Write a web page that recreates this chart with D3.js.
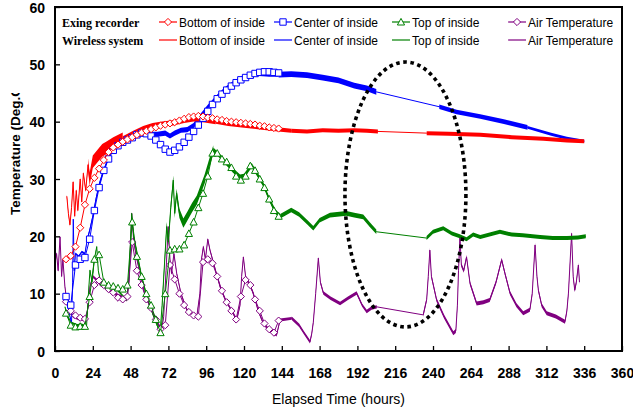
<!DOCTYPE html>
<html>
<head>
<meta charset="utf-8">
<script src="https://cdn.jsdelivr.net/npm/d3@7"></script>
<style>
  body { margin: 0; background: #fff; }
  svg { font-family: "Liberation Sans", Arial, sans-serif; }
</style>
</head>
<body>
<svg id="chart" width="633" height="412"></svg>
<script>
// axis ticks
const xTicks = [0, 24, 48, 72, 96, 120, 144, 168, 192, 216, 240, 264, 288, 312, 336, 360];
const yTicks = [0, 10, 20, 30, 40, 50, 60];

// Exing recorder (markers), hours
const recTime = [7,10,13,16,19,22,25,28,31,34,37,40,43,46,49,52,55,58,61,64,67,70,73,76,79,82,85,88,91,94,97,100,103,106,109,112,115,118,121,124,127,130,133,136,139,142];
const recBottom = [16.0,16.6,18.2,21.5,25.5,28.3,30.2,31.8,33.3,34.7, 35.5,36.0,36.5,36.9,37.3,37.7,38.1,38.4,38.7,39.0, 39.3,39.5,39.7,39.9,40.2,40.5,40.8,40.9,41.0,40.9, 40.7,40.6,40.4,40.3,40.1,40.0,39.9,39.8,39.7,39.6, 39.5,39.3,39.2,39.0,38.9,38.8];
const recCenter = [9.5,8.0,15.0,16.0,16.3,19.5,24.5,28.5,31.5,33.5, 35.0,35.8,36.4,36.8,37.2,37.7,38.0,37.9,37.5,36.8, 36.0,35.2,34.7,35.0,35.6,36.4,37.3,38.3,39.4,40.6, 41.8,43.0,44.0,44.8,45.5,46.2,46.8,47.3,47.7,48.1, 48.4,48.6,48.7,48.7,48.6,48.5];
const recTop = [6.6,4.5,4.2,4.3,4.3,9.5,16.0,16.8,12.0,11.5, 11.3,11.0,10.8,11.5,22.5,16.5,13.0,10.0,8.0,5.5, 3.2,10.0,17.6,17.8,17.8,18.5,20.5,22.5,25.0,27.5, 30.5,34.5,34.5,33.5,33.0,32.0,30.5,29.8,30.5,32.3, 31.5,30.0,28.5,26.5,24.5,23.5];
const recAir = [8.6,7.0,6.2,5.8,5.6,8.5,11.5,12.3,11.5,10.8, 10.2,9.3,9.0,9.5,19.0,14.0,11.5,9.0,7.5,5.5, 3.8,4.5,15.0,12.5,10.0,8.0,6.8,6.2,6.0,15.5, 16.0,15.3,13.0,10.5,8.5,7.0,5.5,9.5,12.4,11.5, 9.0,7.0,4.8,3.8,3.2,5.3];

// Wireless system: [hour, deg]
const wlBottom = [[7.5,27],[8.5,24],[9.5,22],[10.5,25],[11.5,29.5],[12.5,23.5],[13.5,28],[14.5,24.5],[16,30],[17,26],[18,31],[19.5,28],[21,32.5],[22,30],[24,33],[27,34],[30,35],[33,35.5],[37,36.2],[43,37],[50,38],[56,38.8],[62,39.3],[68,39.6],[75,39.8],[82,40.2],[88,40.5],[95,40.3],[102,40.0],[110,39.6],[120,39.3],[130,39.0],[140,38.7],[150,38.4],[160,38.3],[170,38.5],[180,38.4],[190,38.5],[198,38.4],[205,38.3],[236,38.0],[250,37.9],[270,37.7],[290,37.3],[310,37.0],[325,36.7],[336,36.6]];
const wlCenter = [[6.5,10],[8,8],[9.5,6],[10.5,5],[11.2,12],[11.6,23],[12.2,14],[13,17],[15,16.5],[17,17.3],[19,17],[20.5,19.5],[22,21],[24,23.5],[26,26.5],[28,29],[30,30.8],[33,33],[36,35],[40,35.8],[44,36.6],[50,37.4],[55,38.0],[60,37.8],[65,37.8],[70,38.0],[73,37.5],[76,38.0],[80,38.5],[84,38.6],[88,39.3],[92,40.9],[97,42.6],[103,44.4],[108,45.7],[113,46.7],[118,47.5],[124,48.1],[130,48.3],[136,48.2],[142,48.2],[150,48.3],[160,48.1],[170,47.7],[180,47.2],[190,46.3],[198,45.8],[204,45.2],[244,42.6],[255,41.7],[270,40.9],[285,40.0],[300,39.0],[315,37.8],[325,37.1],[336,36.6]];
const wlTop = [[6.3,7.7],[8,6],[10.6,4.9],[14,4.5],[17,4.6],[20,4.2],[21,9],[22.2,14.1],[23.5,12],[25,16],[26.5,18.2],[27.5,14],[28.6,12.5],[32.8,11.2],[39,10.8],[45.5,8.9],[47,13],[48.7,24],[50,20],[51.8,17.6],[55,13],[58.2,9.5],[62,6.5],[66.7,3.1],[68,8],[70.9,21.7],[72,19],[73.5,25],[75.1,29.8],[76,24],[77.2,27.5],[79,24],[81.5,22.3],[84,23.5],[87,25],[90,26.3],[95,30],[100.5,35.1],[104,34.2],[109,32.7],[113,31.5],[117.5,30.4],[120,30.5],[124.9,32.4],[128,31],[132,29.2],[136,26.5],[140,24.3],[143,23.5],[150,24.6],[155,23.8],[160,22.5],[164,21.4],[168,22.8],[174.6,23.7],[185,24],[190,23.7],[195.7,23.4],[200,22],[204,20.8],[235.9,19.7],[240,20.8],[246.5,21.4],[252,20.5],[257,20.0],[261.3,19.5],[265.5,20.3],[270,19.9],[282.5,20.8],[290,20.3],[297,20.2],[308,19.9],[316,19.7],[325,19.7],[332,19.8],[337,20.0]];
const wlAir = [[0,15.3],[1,17],[2,14],[3.2,19.9],[4.2,13],[5,16],[6.3,11.2],[7.4,8.9],[9,7],[11.6,6],[15,5.6],[20,5.4],[21,8],[22.2,11.2],[24,13],[26.5,12.4],[29,11.5],[32.8,11],[38,10],[42,9.5],[45.5,8.9],[47,12],[48.7,24],[50,19],[52,16],[54,13.5],[57,10],[60.3,7.7],[64,5.5],[67.7,3.7],[69,6],[70.5,14],[71.9,21.7],[73,16],[74,13.5],[75.5,17],[77.3,13.5],[80,10],[83.6,7.2],[87,6.5],[90,6],[92,10],[93,16],[94.2,18.2],[95.5,16],[97,19.5],[98.4,17.6],[101,15],[104.8,11.2],[108,9],[113.2,6.6],[115.4,5.4],[117.5,8],[118.5,13],[119.6,16.4],[121,13],[123,12],[125.9,10.1],[129,7],[132.3,4.8],[136,3.6],[140.7,2.8],[142.9,5.4],[150.3,5.7],[155,4.5],[158,3.2],[161.9,1.6],[163,3],[164,5],[165.5,10],[167.2,16.2],[168.5,12],[170.4,10.1],[175,9.2],[181,8.3],[186,9.2],[191.5,10.1],[195,8],[197.9,6.9],[201,7.5],[204.3,7.7],[233.8,6.3],[236,9],[237,13],[238,17.6],[239,13],[242.3,8.9],[247,6],[252.9,3.1],[254.5,3.5],[255.5,8],[256.2,14],[257.1,19.9],[258,15],[259.5,14],[261.3,16.4],[263.5,11.8],[267.7,8.3],[272,8.5],[276,8.9],[280,12],[283.6,15.9],[285.7,13.5],[288.9,10.1],[293,8],[297.3,6.6],[301.5,7.2],[303,10],[304.8,18.5],[306,13],[306.9,10.6],[309,8],[312.2,6.6],[318,6],[323.8,5.1],[325,7],[326,10.1],[328,20.5],[329,13],[330,10.6],[331,12],[332.3,15],[333,12]];

// scatter of the wireless readings (half width of the noisy band, deg) by hour range
const bandBottom = [[0,21,0.3],[21,43,1.1],[43,102,0.45],[102,150,0.35],[150,205,0.35],[236,340,0.35]];
const bandCenter = [[0,20.5,0.2],[20.5,60,0.35],[60,92,0.45],[92,142,0.35],[142,204,0.5],[244,300,0.4],[300,340,0.25]];
const bandTop = [[0,68,0.2],[68,100.5,0.8],[100.5,143,0.4],[143,204,0.4],[235.9,340,0.35]];
const bandAir = [[0,150.3,0.25],[150.3,204.3,0.3],[233.8,340,0.35]];

// dotted ellipse marking the data gap: centre hour, centre deg, half width (h), half height (deg)
const gapMark = [222.5, 27.3, 38.4, 23.1];

const seriesNames = ["Bottom of inside", "Center of inside", "Top of inside", "Air Temperature"];
const colors = ["#ff0000", "#0000ff", "#008000", "#800080"];
const markerTypes = ["diamond", "square", "triangle", "diamond"];

const svg = d3.select("#chart");
const x = d3.scaleLinear().domain([0, 360]).range([55, 622]);
const y = d3.scaleLinear().domain([0, 60]).range([351, 7]);

const plot = svg.append("g");

// marker path around (0,0)
const markerPath = (type) => {
    if (type === "diamond") return "M0,-3.6L3.6,0L0,3.6L-3.6,0Z";
    if (type === "square") return "M-3.2,-3.2H3.2V3.2H-3.2Z";
    return "M0,-3.6L3.6,3L-3.6,3Z";
}

// wireless series: noisy band + centre line
const wireless = [wlBottom, wlCenter, wlTop, wlAir];
const bands = [bandBottom, bandCenter, bandTop, bandAir];
const drawOrder = [3, 2, 1, 0];

drawOrder.forEach(i => {
    const g = plot.append("g").attr("class", "wireless");
    bands[i].forEach(b => {
        const pts = wireless[i].filter(p => p[0] >= b[0] && p[0] <= b[1]);
        g.append("path")
            .datum(pts)
            .attr("fill", colors[i])
            .attr("d", d3.area()
                .x(d => x(d[0]))
                .y0(d => y(d[1] - b[2]))
                .y1(d => y(d[1] + b[2])));
    });
    g.append("path")
        .datum(wireless[i])
        .attr("fill", "none")
        .attr("stroke", colors[i])
        .attr("stroke-width", 1)
        .attr("d", d3.line().x(d => x(d[0])).y(d => y(d[1])));
});

// recorder series: line + open markers
const recorder = [recBottom, recCenter, recTop, recAir];
drawOrder.forEach(i => {
    const g = plot.append("g").attr("class", "recorder");
    const pts = recTime.map((t, k) => [t, recorder[i][k]]);
    g.append("path")
        .datum(pts)
        .attr("fill", "none")
        .attr("stroke", colors[i])
        .attr("stroke-width", 1)
        .attr("d", d3.line().x(d => x(d[0])).y(d => y(d[1])));
    g.selectAll("path.mk").data(pts).join("path")
        .attr("class", "mk")
        .attr("d", markerPath(markerTypes[i]))
        .attr("transform", d => `translate(${x(d[0])},${y(d[1])})`)
        .attr("fill", "#fff")
        .attr("stroke", colors[i])
        .attr("stroke-width", 1);
});

// dotted ellipse
plot.append("ellipse")
    .attr("cx", x(gapMark[0]))
    .attr("cy", y(gapMark[1]))
    .attr("rx", x(gapMark[2]) - x(0))
    .attr("ry", y(0) - y(gapMark[3]))
    .attr("fill", "none")
    .attr("stroke", "#000")
    .attr("stroke-width", 3.6)
    .attr("stroke-dasharray", "3.6 3.6");

// axes with inward ticks
const xAxis = svg.append("g")
    .attr("transform", `translate(0,${y(0)})`)
    .call(d3.axisBottom(x).tickValues(xTicks).tickSize(-5).tickPadding(0));
xAxis.select(".domain").remove();
xAxis.selectAll(".tick line").attr("stroke", "#000").attr("stroke-width", 1.3);
xAxis.selectAll("text")
    .attr("y", 17)
    .attr("dy", "0.71em")
    .style("font-size", "14px")
    .style("font-weight", "bold")
    .attr("fill", "#000");

const yAxis = svg.append("g")
    .attr("transform", `translate(${x(0)},0)`)
    .call(d3.axisLeft(y).tickValues(yTicks).tickSize(-5).tickPadding(10));
yAxis.select(".domain").remove();
yAxis.selectAll(".tick line").attr("stroke", "#000").attr("stroke-width", 1.3);
yAxis.selectAll("text")
    .attr("dy", "0.36em")
    .style("font-size", "14px")
    .style("font-weight", "bold")
    .attr("fill", "#000");

// frame
svg.append("rect")
    .attr("x", x(0)).attr("y", y(60))
    .attr("width", x(360) - x(0)).attr("height", y(0) - y(60))
    .attr("fill", "none").attr("stroke", "#000").attr("stroke-width", 2);

// axis titles
svg.append("text")
    .attr("x", (x(0) + x(360)) / 2)
    .attr("y", 404)
    .attr("text-anchor", "middle")
    .style("font-size", "14px")
    .text("Elapsed Time (hours)");

// y title, cut off at its top end as in the source
svg.append("clipPath").attr("id", "ytitle-clip")
    .append("rect").attr("x", 0).attr("y", 93).attr("width", 40).attr("height", 200);
svg.append("g")
    .attr("clip-path", "url(#ytitle-clip)")
    .append("text")
    .attr("transform", "translate(20,215) rotate(-90)")
    .attr("text-anchor", "start")
    .style("font-size", "13.5px")
    .style("font-weight", "bold")
    .text("Temperature (Deg.C)");

// legend
const legend = svg.append("g").attr("class", "legend");
const rowY = [22, 40];
const rowTitles = ["Exing recorder", "Wireless system"];
const colX = [159, 274, 392, 508];

rowTitles.forEach((t, r) => {
    legend.append("text")
        .attr("x", 62).attr("y", rowY[r] + 5)
        .style("font-family", "'Liberation Serif', 'Times New Roman', serif")
        .style("font-size", "12px")
        .style("font-weight", "bold")
        .text(t);
});

seriesNames.forEach((name, i) => {
    rowY.forEach((ry, r) => {
        legend.append("line")
            .attr("x1", colX[i]).attr("x2", colX[i] + 18)
            .attr("y1", ry).attr("y2", ry)
            .attr("stroke", colors[i]).attr("stroke-width", 1.2);
        if (r === 0) {
            legend.append("path")
                .attr("d", markerPath(markerTypes[i]))
                .attr("transform", `translate(${colX[i] + 9},${ry})`)
                .attr("fill", "#fff").attr("stroke", colors[i]);
        }
        legend.append("text")
            .attr("x", colX[i] + 20).attr("y", ry + 5)
            .style("font-size", "12px")
            .text(name);
    });
});
</script>
</body>
</html>
